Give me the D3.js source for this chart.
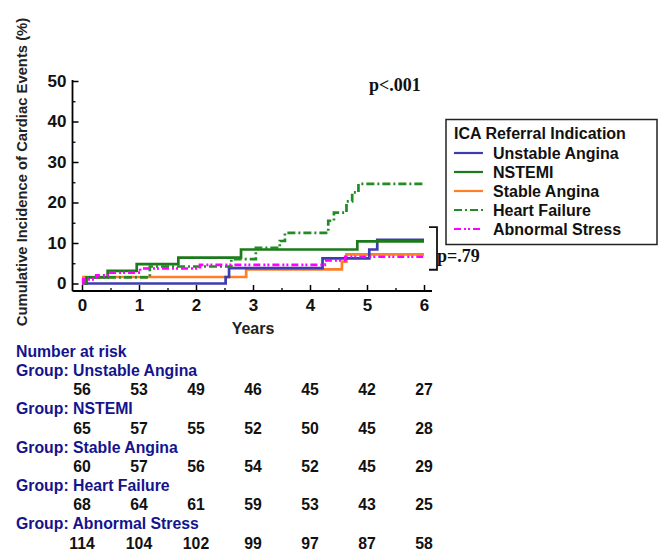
<!DOCTYPE html>
<html>
<head>
<meta charset="utf-8">
<script src="https://cdn.jsdelivr.net/npm/d3@7"></script>
<style>
  body { margin: 0; background: #fff; }
  svg text { font-family: "Liberation Sans", Arial, sans-serif; font-weight: bold; }
</style>
</head>
<body>
<div id="chart"></div>
<script>
// groups and styles
var groups = ["Unstable Angina", "NSTEMI", "Stable Angina", "Heart Failure", "Abnormal Stress"];
var colors = ["#3d3db0", "#1b7a1b", "#ff7f27", "#238b23", "#ff00ff"];
var dashes = [null, null, null, "8,3,2,3", "7,3,2,2,2,3"];

// step times (years) and cumulative incidence (%)
var unstableT = [0, 2.52, 2.58, 4.22, 5.04, 5.18];
var unstableV = [0, 1.6, 3.8, 6.2, 8.4, 10.8];
var nstemiT = [0, 0.08, 0.45, 0.96, 1.69, 2.79, 4.83];
var nstemiV = [0, 1.5, 3.1, 4.8, 6.4, 8.4, 10.4];
var stableT = [0, 2.88, 4.56, 4.64];
var stableV = [1.6, 3.5, 5.4, 7.2];
var hfT = [0, 0.05, 1.19, 2.62, 3.05, 3.47, 3.56, 4.32, 4.42, 4.64, 4.74, 4.85];
var hfV = [0, 1.5, 4.2, 6.0, 8.8, 10.5, 12.5, 15.5, 17.5, 20.3, 22.5, 24.6];
var stressT = [0, 0.02, 0.25, 0.5, 1.02, 2.07, 4.26, 4.62];
var stressV = [0, 1.0, 2.0, 2.7, 3.7, 4.6, 5.7, 6.6];

var allT = [unstableT, nstemiT, stableT, hfT, stressT];
var allV = [unstableV, nstemiV, stableV, hfV, stressV];

// number at risk
var years = [0, 1, 2, 3, 4, 5, 6];
var riskUnstable = [56, 53, 49, 46, 45, 42, 27];
var riskNstemi = [65, 57, 55, 52, 50, 45, 28];
var riskStable = [60, 57, 56, 54, 52, 45, 29];
var riskHF = [68, 64, 61, 59, 53, 43, 25];
var riskStress = [114, 104, 102, 99, 97, 87, 58];
var allRisk = [riskUnstable, riskNstemi, riskStable, riskHF, riskStress];

var yTicks = [0, 10, 20, 30, 40, 50];

var w = 662, h = 550;

var svg = d3.select("#chart").append("svg")
  .attr("width", w).attr("height", h);

var x = d3.scaleLinear().domain([0, 6]).range([82, 424]);
var y = d3.scaleLinear().domain([0, 50]).range([283.5, 81]);
var axisX = 72.5, axisY = 291;

// axes lines
svg.append("line").attr("x1", axisX).attr("x2", axisX)
  .attr("y1", y(50) - 1).attr("y2", axisY)
  .attr("stroke", "#000").attr("stroke-width", 1.8);
svg.append("line").attr("x1", axisX).attr("x2", x(6) + 8)
  .attr("y1", axisY).attr("y2", axisY)
  .attr("stroke", "#000").attr("stroke-width", 1.8);

// y axis
var gy = svg.append("g").attr("transform", "translate(" + axisX + ",0)")
  .call(d3.axisLeft(y).tickValues(yTicks).tickSize(-6).tickPadding(6));
gy.select(".domain").remove();
gy.selectAll("line").attr("stroke-width", 1.5);
gy.selectAll("text").style("font-size", "17px").attr("fill", "#111");
var gy2 = svg.append("g").attr("transform", "translate(" + axisX + ",0)")
  .call(d3.axisLeft(y).tickValues([5, 15, 25, 35, 45]).tickSize(-3).tickFormat(""));
gy2.select(".domain").remove();
gy2.selectAll("line").attr("stroke-width", 1.3);

// x axis
var gx = svg.append("g").attr("transform", "translate(0," + axisY + ")")
  .call(d3.axisBottom(x).tickValues(years).tickSize(-6).tickPadding(8).tickFormat(d3.format("d")));
gx.select(".domain").remove();
gx.selectAll("line").attr("stroke-width", 1.5);
gx.selectAll("text").style("font-size", "17px").attr("fill", "#111");
var gx2 = svg.append("g").attr("transform", "translate(0," + axisY + ")")
  .call(d3.axisBottom(x).tickValues([0.5, 1.5, 2.5, 3.5, 4.5, 5.5]).tickSize(-3).tickFormat(""));
gx2.select(".domain").remove();
gx2.selectAll("line").attr("stroke-width", 1.3);

// axis titles
svg.append("text").attr("x", x(3)).attr("y", 334)
  .attr("text-anchor", "middle").style("font-size", "16px").attr("fill", "#222")
  .text("Years");
svg.append("text")
  .attr("transform", "translate(27,172) rotate(-90)")
  .attr("text-anchor", "middle").style("font-size", "14.8px").attr("fill", "#222")
  .text("Cumulative Incidence of Cardiac Events (%)");

// step curves
var line = d3.line()
  .x(function(d){ return x(d[0]); })
  .y(function(d){ return y(d[1]); })
  .curve(d3.curveStepAfter);

var drawOrder = [2, 0, 1, 3, 4];
drawOrder.forEach(function(i){
  var pts = allT[i].map(function(t, j){ return [t, allV[i][j]]; });
  pts.push([6, allV[i][allV[i].length - 1]]);
  svg.append("path").datum(pts)
    .attr("d", line)
    .attr("fill", "none")
    .attr("stroke", colors[i])
    .attr("stroke-width", 2.7)
    .attr("stroke-dasharray", dashes[i]);
});

// p values
svg.append("text").attr("x", 369).attr("y", 91)
  .style("font-family", "'Liberation Serif', 'Times New Roman', serif")
  .style("font-size", "18px").attr("fill", "#111").text("p<.001");

svg.append("path")
  .attr("d", "M" + (x(6) + 5) + "," + y(13.9) + "H" + (x(6) + 13) + "V" + y(3.4) + "H" + (x(6) + 5))
  .attr("fill", "none").attr("stroke", "#111").attr("stroke-width", 1.8);
svg.append("text").attr("x", 437).attr("y", 262)
  .style("font-family", "'Liberation Serif', 'Times New Roman', serif")
  .style("font-size", "18px").attr("fill", "#111").text("p=.79");

// legend
var lg = svg.append("g");
lg.append("rect").attr("x", 446).attr("y", 119.5).attr("width", 211).attr("height", 125)
  .attr("fill", "#fff").attr("stroke", "#222").attr("stroke-width", 1.5);
lg.append("text").attr("x", 454).attr("y", 139).style("font-size", "16px").attr("fill", "#111")
  .text("ICA Referral Indication");
groups.forEach(function(g, i){
  var yy = 153 + i * 19;
  lg.append("line").attr("x1", 454).attr("x2", 483).attr("y1", yy).attr("y2", yy)
    .attr("stroke", colors[i]).attr("stroke-width", 2.2)
    .attr("stroke-dasharray", dashes[i]);
  lg.append("text").attr("x", 493).attr("y", yy + 5.8).style("font-size", "16px").attr("fill", "#111")
    .text(g);
});

// number at risk table
var navy = "#14148c";
svg.append("text").attr("x", 16).attr("y", 356.5).style("font-size", "15.8px").attr("fill", navy)
  .text("Number at risk");
groups.forEach(function(g, i){
  var gy0 = 376 + i * 38.3;
  svg.append("text").attr("x", 16).attr("y", gy0).style("font-size", "15.8px").attr("fill", navy)
    .text("Group: " + g);
  svg.selectAll(null).data(allRisk[i]).enter().append("text")
    .attr("x", function(d, j){ return x(years[j]); })
    .attr("y", gy0 + 19.3)
    .attr("text-anchor", "middle")
    .style("font-size", "15.8px").attr("fill", "#111")
    .text(function(d){ return d; });
});
</script>
</body>
</html>
